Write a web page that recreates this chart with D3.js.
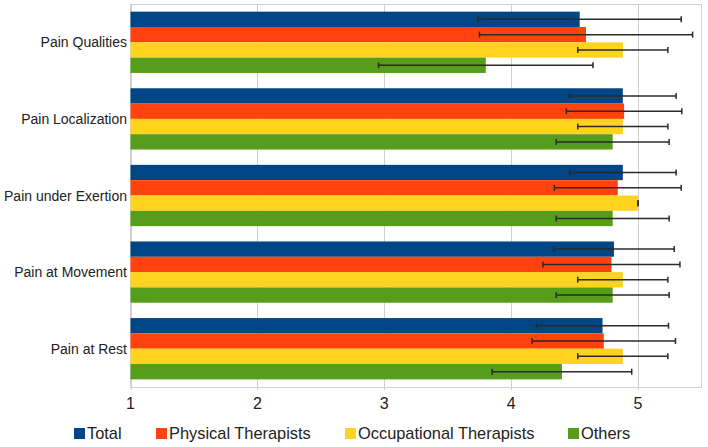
<!DOCTYPE html>
<html><head><meta charset="utf-8">
<script src="https://cdn.jsdelivr.net/npm/d3@7"></script>
<style>body{margin:0;background:#fff}svg{display:block;font-family:"Liberation Sans",Arial,sans-serif}</style>
</head><body><svg id="c" width="708" height="447"></svg>
<script>
const categories = ["Pain Qualities","Pain Localization","Pain under Exertion","Pain at Movement","Pain at Rest"];
const seriesNames = ["Total","Physical Therapists","Occupational Therapists","Others"];
const seriesColors = ["#004586","#ff420e","#ffd320","#579d1c"];
const totalMean = [4.54,4.88,4.88,4.81,4.72];
const totalSD   = [0.80,0.42,0.42,0.475,0.52];
const ptMean = [4.59,4.89,4.84,4.79,4.73];
const ptSD   = [0.84,0.455,0.50,0.54,0.565];
const otMean = [4.88,4.88,5.00,4.88,4.88];
const otSD   = [0.355,0.355,0,0.355,0.355];
const othMean = [3.80,4.80,4.80,4.80,4.40];
const othSD   = [0.845,0.445,0.445,0.445,0.55];
const xTicks = [1,2,3,4,5];

const means = [totalMean, ptMean, otMean, othMean];
const sds = [totalSD, ptSD, otSD, othSD];

const svg = d3.select("#c");
const L = 130.5, R = 701.5, T = 4, B = 387;
const x = d3.scaleLinear().domain([1,5.5]).range([L,R]);
const y = d3.scaleBand().domain(categories).range([T,B]).paddingInner(0.2).paddingOuter(0.1);
const ys = d3.scaleBand().domain(seriesNames).range([0,y.bandwidth()]);

// grid
svg.append("g").selectAll("line").data(xTicks).join("line")
  .attr("x1",d=>Math.round(x(d))+0.5).attr("x2",d=>Math.round(x(d))+0.5)
  .attr("y1",T).attr("y2",B+3).attr("stroke","#cfcfcf").attr("stroke-width",1);
// border
svg.append("rect").attr("x",L).attr("y",T+0.5).attr("width",R-L).attr("height",B-T)
  .attr("fill","none").attr("stroke","#d0d0d0").attr("stroke-width",1);

// data rows
const rows = [];
categories.forEach((c,i)=>seriesNames.forEach((s,j)=>rows.push({c,s,j,m:means[j][i],sd:sds[j][i]})));

svg.append("g").selectAll("rect").data(rows).join("rect")
  .attr("x",x(1)).attr("y",d=>y(d.c)+ys(d.s))
  .attr("width",d=>x(d.m)-x(1)).attr("height",ys.bandwidth())
  .attr("fill",d=>seriesColors[d.j]);

const eb = svg.append("g").attr("stroke","#2a2a2a").attr("stroke-width",1.5);
rows.forEach(d=>{
  const cy = y(d.c)+ys(d.s)+ys.bandwidth()/2;
  const x0 = x(d.m-d.sd), x1 = x(d.m+d.sd);
  if (d.sd>0) eb.append("line").attr("x1",x0).attr("x2",x1).attr("y1",cy).attr("y2",cy);
  eb.append("line").attr("x1",x0).attr("x2",x0).attr("y1",cy-3).attr("y2",cy+3);
  eb.append("line").attr("x1",x1).attr("x2",x1).attr("y1",cy-3).attr("y2",cy+3);
});

// x tick labels
svg.append("g").selectAll("text").data(xTicks).join("text")
  .attr("x",d=>x(d)).attr("y",409).attr("text-anchor","middle")
  .attr("font-size",16).attr("fill","#222").text(d=>d);

// category labels
svg.append("g").selectAll("text").data(categories).join("text")
  .attr("x",127).attr("y",d=>y(d)+y.bandwidth()/2+5).attr("text-anchor","end")
  .attr("font-size",14).attr("fill","#222").text(d=>d);

// legend
const legX = [74,156,345,568];
const lg = svg.append("g").selectAll("g").data(seriesNames).join("g")
  .attr("transform",(d,i)=>`translate(${legX[i]},0)`);
lg.append("rect").attr("x",0).attr("y",428).attr("width",11).attr("height",11).attr("fill",(d,i)=>seriesColors[i]);
lg.append("text").attr("x",13).attr("y",439).attr("font-size",16.4).attr("fill","#222").text(d=>d);
</script></body></html>
